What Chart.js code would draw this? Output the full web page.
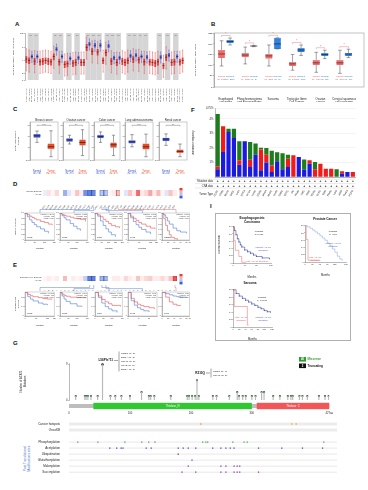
<!DOCTYPE html>
<html>
<head>
<meta charset="utf-8">
<script src="https://cdn.jsdelivr.net/npm/chart.js@4.4.1/dist/chart.umd.min.js"></script>
<style>
body { margin: 0; background: #fff; width: 368px; height: 490px; overflow: hidden; position: relative; font-family: "Liberation Sans", Arial, sans-serif; }
canvas { position: absolute; }
.lbl { position: absolute; font-weight: bold; font-size: 6px; line-height: 6px; color: #111; }
.frame { position: absolute; border: 0.6px solid #b0b0b0; box-sizing: border-box; }
.ptm { position: absolute; left: 8px; top: 455px; width: 40px; font-size: 3.2px; line-height: 3.6px; color: #4a72c4; text-align: center; transform: rotate(-90deg); transform-origin: center; }
</style>
</head>
<body>
<div class="lbl" style="left:15px;top:21px">A</div>
<div class="lbl" style="left:211px;top:21px">B</div>
<div class="lbl" style="left:13px;top:106px">C</div>
<div class="lbl" style="left:191px;top:107px">F</div>
<div class="lbl" style="left:13px;top:181px">D</div>
<div class="lbl" style="left:13px;top:262px">E</div>
<div class="lbl" style="left:210px;top:203px">I</div>
<div class="lbl" style="left:13px;top:340px">G</div>
<div class="frame" style="left:215px;top:213px;width:136px;height:128px"></div>
<div class="ptm">Post Translational<br>Modifications sites</div>
<script>
// ---------- panel A : pan-cancer expression ----------
const aLabels = ['ACC.Tumor (n=79)','BLCA.Tumor (n=408)','BLCA.Normal (n=19)','BRCA.Tumor (n=1093)','BRCA.Normal (n=112)',
  'BRCA-Basal.Tumor (n=190)','BRCA-Her2.Tumor (n=82)','BRCA-LumA.Tumor (n=564)','BRCA-LumB.Tumor (n=217)','CESC.Tumor (n=304)',
  'CHOL.Tumor (n=36)','CHOL.Normal (n=9)','COAD.Tumor (n=457)','COAD.Normal (n=41)','DLBC.Tumor (n=48)','ESCA.Tumor (n=184)',
  'ESCA.Normal (n=11)','GBM.Tumor (n=153)','HNSC.Tumor (n=520)','HNSC.Normal (n=44)','HNSC-HPV+.Tumor (n=97)','HNSC-HPV-.Tumor (n=421)',
  'KICH.Tumor (n=66)','KICH.Normal (n=25)','KIRC.Tumor (n=533)','KIRC.Normal (n=72)','KIRP.Tumor (n=290)','KIRP.Normal (n=32)',
  'LGG.Tumor (n=516)','LIHC.Tumor (n=371)','LIHC.Normal (n=50)','LUAD.Tumor (n=515)','LUAD.Normal (n=59)','LUSC.Tumor (n=501)',
  'LUSC.Normal (n=51)','MESO.Tumor (n=87)','OV.Tumor (n=303)','PAAD.Tumor (n=178)','PAAD.Normal (n=4)','PCPG.Tumor (n=179)',
  'PCPG.Normal (n=3)','PRAD.Tumor (n=497)','PRAD.Normal (n=52)','READ.Tumor (n=166)','READ.Normal (n=10)','SARC.Tumor (n=259)',
  'SKCM.Tumor (n=103)','SKCM.Metastasis (n=368)','STAD.Tumor (n=415)','STAD.Normal (n=35)','TGCT.Tumor (n=150)','THCA.Tumor (n=501)',
  'THCA.Normal (n=59)','THYM.Tumor (n=120)','UCEC.Tumor (n=545)','UCEC.Normal (n=35)','UCS.Tumor (n=57)','UVM.Tumor (n=80)'];
// [min, q1, median, q3, max]
const aStats = [[2.4,3.6,4.2,4.7,5.8],[2.2,3.4,4.0,4.5,5.6],[3.7,4.25,4.6,4.95,5.4],[2.1,3.3,3.9,4.4,5.5],[3.7,4.25,4.6,4.95,5.4],
  [2.0,3.2,3.8,4.3,5.4],[2.1,3.3,3.9,4.4,5.5],[2.2,3.4,4.0,4.5,5.6],[2.1,3.3,3.9,4.4,5.5],[2.0,3.2,3.8,4.3,5.4],
  [2.8,4.0,4.6,5.1,6.2],[4.8,5.35,5.7,6.05,6.5],[2.0,3.2,3.8,4.3,5.4],[3.7,4.25,4.6,4.95,5.4],[1.6,2.8,3.4,3.9,5.0],[1.7,2.9,3.5,4.0,5.1],
  [3.4,3.95,4.3,4.65,5.1],[1.8,3.0,3.6,4.1,5.2],[1.9,3.1,3.7,4.2,5.3],[3.5,4.05,4.4,4.75,5.2],[1.9,3.1,3.7,4.2,5.3],[1.9,3.1,3.7,4.2,5.3],
  [4.2,5.4,6.0,6.5,7.6],[5.6,6.15,6.5,6.85,7.3],[3.6,4.8,5.4,5.9,7.0],[5.4,5.95,6.3,6.65,7.1],[3.5,4.7,5.3,5.8,6.9],[5.4,5.95,6.3,6.65,7.1],
  [2.2,3.4,4.0,4.5,5.6],[3.4,4.6,5.2,5.7,6.8],[5.3,5.85,6.2,6.55,7.0],[2.1,3.3,3.9,4.4,5.5],[3.5,4.05,4.4,4.75,5.2],[1.9,3.1,3.7,4.2,5.3],
  [3.5,4.05,4.4,4.75,5.2],[2.1,3.3,3.9,4.4,5.5],[1.9,3.1,3.7,4.2,5.3],[2.2,3.4,4.0,4.5,5.6],[3.8,4.35,4.7,5.05,5.5],[2.4,3.6,4.2,4.7,5.8],
  [3.9,4.45,4.8,5.15,5.6],[2.3,3.5,4.1,4.6,5.7],[3.7,4.25,4.6,4.95,5.4],[2.0,3.2,3.8,4.3,5.4],[3.6,4.15,4.5,4.85,5.3],[2.0,3.2,3.8,4.3,5.4],
  [1.9,3.1,3.7,4.2,5.3],[1.8,3.0,3.6,4.1,5.2],[2.0,3.2,3.8,4.3,5.4],[3.6,4.15,4.5,4.85,5.3],[1.4,2.6,3.2,3.7,4.8],[2.7,3.9,4.5,5.0,6.1],
  [3.9,4.45,4.8,5.15,5.6],[1.9,3.1,3.7,4.2,5.3],[2.0,3.2,3.8,4.3,5.4],[3.7,4.25,4.6,4.95,5.4],[2.0,3.2,3.8,4.3,5.4],[2.2,3.4,4.0,4.5,5.6]];

// ---------- panel B ----------
const bGroups = [['Esophageal','carcinoma'],['Pheochromocytoma','and Paraganglioma'],['Sarcoma'],['Testicular Germ','Cell Tumors'],['Ovarian','cancer'],['Cervical squamous','cell carcinoma']];
const bTumor = [[95,133,152,171,215],[105,138,147,157,185],[95,129,143,152,195],[75,95,105,114,150],[65,100,110,124,160],[60,100,110,124,170]];
const bNormal = [[195,205,212,219,228],[187,189,190,191,193],[176,176,200,229,229],[145,162,171,181,195],[130,143,150,157,170],[135,143,152,157,175]];
const bNT = [182,182,262,137,426,306];
const bNN = [286,3,2,165,88,13];

// ---------- panel C ----------
const cTitles = ['Breast cancer','Ovarian cancer','Colon cancer','Lung adenocarcinoma','Renal cancer'];
const cNormal = [[-0.1,0.76,1.1,1.44,1.96],[-0.4,0.03,0.35,0.66,1.2],[-0.1,0.66,0.97,1.28,1.8],[-0.9,-0.3,0,0.3,1.3],[-0.65,0.13,0.5,0.76,1.44]];
const cTumor = [[-2.7,-1.35,-0.9,-0.3,2.0],[-2.5,-0.65,-0.12,0.4,2.2],[-2.5,-1.06,-0.54,-0.12,1.2],[-2.7,-1.4,-0.9,-0.3,1.4],[-2.7,-2.05,-1.74,-1.4,-0.4]];
const cN = [[18,125],[25,100],[100,97],[111,111],[84,110]];
const cSig = ['****','***','****','****','***'];

// ---------- panels D / E : survival map ----------
const hCancers = ['ACC','BLCA','BRCA','CESC','CHOL','COAD','DLBC','ESCA','GBM','HNSC','KICH','KIRC','KIRP','LAML','LGG','LIHC',
  'LUAD','LUSC','MESO','OV','PAAD','PCPG','PRAD','READ','SARC','SKCM','STAD','TGCT','THCA','THYM','UCEC','UCS','UVM'];
const dHR = [-0.1,0.15,0.05,0.2,0,-0.5,-0.15,0.05,0.3,0.1,-0.7,-0.8,-0.75,0,-0.35,-0.35,0.05,0.1,0.35,0,-0.15,0.3,0.1,0.75,0.1,0.2,0.45,0.1,0.35,0.05,-0.15,0.3,0.1];
const eHR = [0.05,0.1,0.05,0.1,0,0.35,0,0.1,0.05,0.1,-0.3,-0.8,-0.8,0,-0.45,-0.45,0,0.1,0.1,0.05,0.2,0.1,0.05,0.3,0.1,0.2,0.25,0.1,0.1,0.2,0.1,0.3,0.85];
const dSig = ['KIRC','KIRP','LGG','LIHC','MESO'];
const eSig = ['KIRC','KIRP','LGG','LIHC','UVM'];
const dP = ['1.2e-06','0.0023','0.0011','0.0092','0.0031'];
const eP = ['0.00038','0.0041','0.0017','0.012','0.026'];

const kircOSHigh = [[0,1],[12,0.96],[24,0.9],[36,0.85],[48,0.8],[60,0.76],[80,0.7],[100,0.66],[120,0.6],[140,0.57]];
const kircOSLow = [[0,1],[12,0.88],[24,0.76],[36,0.66],[48,0.58],[60,0.5],[80,0.42],[100,0.33],[120,0.25]];
const kirpOSHigh = [[0,1],[12,0.97],[24,0.93],[36,0.9],[60,0.86],[80,0.82],[100,0.8],[120,0.78],[150,0.7]];
const kirpOSLow = [[0,1],[12,0.92],[24,0.84],[36,0.76],[60,0.62],[80,0.52],[100,0.42],[120,0.35]];
const lggOSHigh = [[0,1],[20,0.95],[40,0.88],[60,0.78],[80,0.7],[100,0.62],[120,0.55],[150,0.5],[180,0.45]];
const lggOSLow = [[0,1],[20,0.9],[40,0.72],[60,0.55],[80,0.42],[100,0.3],[120,0.2],[150,0.12]];
const lihcOSHigh = [[0,1],[12,0.9],[24,0.82],[36,0.74],[48,0.66],[60,0.6],[80,0.52],[100,0.45],[120,0.42]];
const lihcOSLow = [[0,1],[12,0.84],[24,0.7],[36,0.58],[48,0.48],[60,0.4],[80,0.3],[100,0.22]];
const mesoOSHigh = [[0,1],[6,0.8],[12,0.55],[18,0.35],[24,0.2],[30,0.1],[40,0.05],[50,0]];
const mesoOSLow = [[0,1],[6,0.95],[12,0.85],[18,0.72],[24,0.6],[36,0.45],[48,0.35],[60,0.3],[80,0.25]];

const kircDFSHigh = [[0,1],[12,0.92],[24,0.86],[36,0.82],[60,0.78],[80,0.74],[100,0.72],[120,0.7]];
const kircDFSLow = [[0,1],[12,0.82],[24,0.72],[36,0.64],[60,0.55],[80,0.5],[100,0.46]];
const kirpDFSHigh = [[0,1],[12,0.93],[24,0.88],[36,0.84],[60,0.8],[100,0.78],[150,0.76]];
const kirpDFSLow = [[0,1],[12,0.85],[24,0.72],[36,0.62],[60,0.52],[100,0.42],[130,0.4]];
const lggDFSHigh = [[0,1],[20,0.85],[40,0.7],[60,0.6],[80,0.52],[100,0.45],[150,0.4]];
const lggDFSLow = [[0,1],[20,0.78],[40,0.55],[60,0.4],[80,0.3],[100,0.22],[130,0.15]];
const lihcDFSHigh = [[0,1],[12,0.75],[24,0.6],[36,0.5],[48,0.44],[60,0.4],[80,0.35],[100,0.3]];
const lihcDFSLow = [[0,1],[12,0.65],[24,0.46],[36,0.35],[48,0.28],[60,0.22],[80,0.17]];
const uvmDFSHigh = [[0,1],[12,0.8],[24,0.6],[36,0.5],[48,0.45],[60,0.42]];
const uvmDFSLow = [[0,1],[12,0.95],[24,0.9],[36,0.85],[48,0.82],[60,0.8],[80,0.78]];

// ---------- panel F : alteration frequency ----------
const fTypes = ['UCEC','STAD','SKCM','CHOL','UCS','ESCA','BLCA','LUSC','COAD','BRCA','HNSC','LUAD','SARC','CESC','OV','PAAD',
  'LIHC','KIRC','READ','DLBC','GBM','PRAD','LGG','KIRP','THCA','PCPG'];
const fDel = [0.53,1.72,3.1,2.69,0.85,2.46,0.69,1.54,0.46,0.99,0.35,1.08,0.53,0.69,0,1.38,0.5,0.92,0,0,0,0,0,0.23,0.34,0];
const fAmp = [0.2,1.78,0,0,0.3,0,0.5,0,1.43,0.55,0.45,0,0,0.57,1.5,0,0,0.23,0.53,0.92,0.57,0.57,0,0.16,0,0.34];
const fMut = [3.6,0,0.23,0.64,1.31,0,1.22,0.76,0.13,0.46,1.0,0.62,1.1,0.28,0,0,0.7,0,0.5,0,0,0,0.53,0,0,0];

// ---------- panel I : cBioPortal survival ----------
const esoWithout = [[0,1],[5,0.9],[10,0.78],[15,0.67],[20,0.58],[25,0.5],[30,0.44],[40,0.36],[50,0.31],[60,0.27],[70,0.22],[80,0.18],[100,0.14],[125,0.12]];
const esoWith = [[0,1],[3,0.62],[8,0.35],[15,0.35],[20,0.18],[28,0.18],[30,0.02],[45,0.02]];
const prWithout = [[0,1],[10,0.97],[20,0.93],[30,0.88],[40,0.83],[50,0.78],[60,0.72],[70,0.66],[80,0.6],[90,0.52],[100,0.45],[110,0.36],[120,0.27],[130,0.16],[140,0.08],[150,0.04]];
const prWith = [[0,1],[5,0.62],[12,0.05],[60,0.05]];
const sarWithout = [[0,1],[10,0.9],[20,0.83],[30,0.77],[40,0.72],[50,0.67],[60,0.62],[70,0.58],[80,0.53],[90,0.49],[100,0.44],[110,0.41],[120,0.4]];
const sarWith = [[0,1],[4,0.55],[46,0.05],[50,0.05]];

// ---------- panel G : lollipop + PTM ----------
const gMissense = [[11,1],[26,1],[28,1],[31,1],[36,1],[47,1],[68,1],[76,1],[86,1],[100,1],[119,2],[131,1],[134,1],[140,1],[167,1],
  [194,1],[197,1],[202,1],[207,1],[210,5],[213,1],[236,1],[242,1],[263,1],[276,2],[279,1],[285,1],[290,1],[300,1],[306,1],[316,2],
  [320,2],[335,1],[346,1],[359,1],[364,1],[367,1],[378,1],[383,1],[391,1],[410,1],[420,1],[426,1]];
const gTrunc = [[55,9]];
const gTicks = [0,100,200,300,427];
const gDomains = [['Thiolase_N',40,300,'#33c633'],['Thiolase_C',308,427,'#f25656']];
const gLegend = [['40','Missense','#2e9e2e'],['2','Truncating','#111']];
const pRowNames = ['Succinylation','Malonylation','Glutathionylation','Ubiquitination','Acetylation','Phosphorylation','','OncoKB','Cancer hotspots'];
const pHotspots = [210,355,362];
const pPhos = [14,46,89,116,127,137,213,218,221,261,279,284,406];
const pAcet = [65,76,83,86,123,131,174,182,190,202,229,242,250,257,263,302,339,372,404];
const pUbiq = [174];
const pGlut = [196];
const pMalon = [190,242,250,263,268,272];
const pSucc = [180,202,242,250,263,268,272,302];

// ---------- helpers ----------
const FF = '"Liberation Sans", Arial, sans-serif';
Chart.defaults.font.family = FF;
Chart.defaults.font.size = 3;
Chart.defaults.color = '#222';
Chart.defaults.animation = false;
Chart.defaults.responsive = false;
Chart.defaults.events = [];
Chart.defaults.plugins.legend.display = false;
Chart.defaults.plugins.tooltip.enabled = false;

function mk(cv) {
    const c = document.createElement('canvas');
    c.width = cv[2]; c.height = cv[3];
    c.style.left = cv[0] + 'px'; c.style.top = cv[1] + 'px';
    c.style.width = cv[2] + 'px'; c.style.height = cv[3] + 'px';
    document.body.appendChild(c);
    return c;
}
// canvas [x,y,w,h] and plot [l,t,r,b] in page pixels
function box(cv, pl, padL) {
    padL = padL || 0;
    return { padL: padL, padT: pl[1] - cv[1], padR: cv[0] + cv[2] - pl[2], yW: pl[0] - cv[0] - padL, xH: cv[1] + cv[3] - pl[3] };
}
function lay(L) {
    return { autoPadding: false, padding: { left: L.padL, top: L.padT, right: L.padR, bottom: 0 } };
}
function notesP(cv, items) {
    return { id: 'notes', afterDraw(chart) {
        const ctx = chart.ctx;
        items.forEach(n => {
            ctx.save();
            ctx.font = (n.b ? 'bold ' : '') + (n.s || 3) + 'px ' + FF;
            ctx.fillStyle = n.c || '#222';
            ctx.textAlign = n.a || 'center';
            ctx.textBaseline = 'middle';
            ctx.fillText(n.t, n.x - cv[0], n.y - cv[1]);
            ctx.restore();
        });
    }};
}
function frameP(color, extR) {
    return { id: 'frame', afterDraw(chart) {
        const a = chart.chartArea, ctx = chart.ctx;
        ctx.save();
        ctx.strokeStyle = color; ctx.lineWidth = 0.5;
        ctx.strokeRect(a.left, a.top, a.right - a.left + (extR || 0), a.bottom - a.top);
        ctx.restore();
    }};
}
// whiskers and medians on top of floating bars
const boxP = { id: 'boxes', afterDatasetsDraw(chart) {
    const ctx = chart.ctx, y = chart.scales.y;
    chart.data.datasets.forEach((ds, di) => {
        if (!ds.stats) return;
        chart.getDatasetMeta(di).data.forEach((bar, i) => {
            const s = ds.stats[i];
            if (!s) return;
            const hw = bar.width / 2, p = v => y.getPixelForValue(v);
            ctx.save();
            ctx.strokeStyle = ds.whisker || '#333'; ctx.lineWidth = 0.5;
            ctx.beginPath();
            ctx.moveTo(bar.x, p(s[3])); ctx.lineTo(bar.x, p(s[4]));
            ctx.moveTo(bar.x, p(s[1])); ctx.lineTo(bar.x, p(s[0]));
            ctx.moveTo(bar.x - hw * 0.5, p(s[4])); ctx.lineTo(bar.x + hw * 0.5, p(s[4]));
            ctx.moveTo(bar.x - hw * 0.5, p(s[0])); ctx.lineTo(bar.x + hw * 0.5, p(s[0]));
            ctx.stroke();
            ctx.strokeStyle = ds.median || '#000'; ctx.lineWidth = 0.6;
            ctx.beginPath(); ctx.moveTo(bar.x - hw, p(s[2])); ctx.lineTo(bar.x + hw, p(s[2])); ctx.stroke();
            ctx.restore();
        });
    });
}};
function heatColor(v) {
    const t = Math.min(1, Math.abs(v));
    const c = v >= 0 ? [230, 60, 58] : [58, 96, 218];
    const m = k => Math.round(255 + (c[k] - 255) * t);
    return 'rgb(' + m(0) + ',' + m(1) + ',' + m(2) + ')';
}
const tinyAxis = (size, extra) => Object.assign({
    grid: { drawOnChartArea: false, tickLength: 1, color: '#666', lineWidth: 0.4 },
    border: { color: '#666', width: 0.45 },
    ticks: { font: { size: size }, padding: 0.5 }
}, extra);

// ---------- A ----------
const cvA = [12, 30, 174, 72], LA = box(cvA, [25, 33, 184, 80]);
const isN = aLabels.map(l => l.indexOf('Normal') >= 0);
const stripesP = { id: 'stripes', beforeDatasetsDraw(chart) {
    const x = chart.scales.x, a = chart.chartArea, ctx = chart.ctx, w = a.width / aLabels.length;
    ctx.save();
    isN.forEach((n, i) => {
        if (!n) return;
        const x0 = x.getPixelForValue(i - 1) - w / 2, x1 = x.getPixelForValue(i) + w / 2;
        ctx.fillStyle = '#d5d5d5';
        ctx.fillRect(x0, a.top, x1 - x0, a.bottom - a.top);
        ctx.fillStyle = '#333'; ctx.font = '2.4px ' + FF; ctx.textAlign = 'center';
        ctx.fillText('***', (x0 + x1) / 2, a.top + 2.8);
    });
    ctx.restore();
}};
new Chart(mk(cvA), {
    type: 'bar',
    data: { labels: aLabels, datasets: [
        { data: aStats.map((s, i) => isN[i] ? null : [s[1], s[3]]), stats: aStats.map((s, i) => isN[i] ? null : s),
          backgroundColor: 'rgba(228,38,38,0.9)', borderColor: '#c01818', borderWidth: 0.3, whisker: '#e84a4a', median: '#6a0000',
          grouped: false, barPercentage: 0.8, categoryPercentage: 1 },
        { data: aStats.map((s, i) => isN[i] ? [s[1], s[3]] : null), stats: aStats.map((s, i) => isN[i] ? s : null),
          backgroundColor: 'rgba(60,78,214,0.9)', borderColor: '#2a3aa8', borderWidth: 0.3, whisker: '#4a5ae0', median: '#0a1060',
          grouped: false, barPercentage: 0.8, categoryPercentage: 1 }
    ]},
    options: {
        layout: lay(LA),
        scales: {
            x: { afterFit: s => { s.height = LA.xH; }, grid: { display: false }, border: { display: false },
                 ticks: { autoSkip: false, minRotation: 90, maxRotation: 90, font: { size: 2.2 }, padding: 0.5, color: '#444' } },
            y: tinyAxis(2.5, { min: 1, max: 8.2, afterFit: s => { s.width = LA.yW; },
                 ticks: { stepSize: 2, font: { size: 2.5 }, padding: 0.5 },
                 title: { display: true, text: 'ACAT1 Expression Level (log2 TPM)', font: { size: 2.3 }, padding: 0 } })
        }
    },
    plugins: [stripesP, boxP]
});

// ---------- B ----------
const cvB = [194, 30, 172, 72], LB = box(cvB, [214, 33, 356, 87]);
const bExtraP = { id: 'bextra', afterDraw(chart) {
    const ctx = chart.ctx, a = chart.chartArea, y = chart.scales.y;
    const mT = chart.getDatasetMeta(0), mN = chart.getDatasetMeta(1);
    ctx.save();
    bTumor.forEach((s, i) => {
        const xT = mT.data[i].x, xN = mN.data[i].x;
        const yb = y.getPixelForValue(Math.max(s[4], bNormal[i][4]) + 12);
        ctx.strokeStyle = '#e07a7a'; ctx.lineWidth = 0.45;
        ctx.beginPath(); ctx.moveTo(xT, yb + 1.5); ctx.lineTo(xT, yb); ctx.lineTo(xN, yb); ctx.lineTo(xN, yb + 1.5); ctx.stroke();
        ctx.fillStyle = '#d9534f'; ctx.font = '3px ' + FF; ctx.textAlign = 'center'; ctx.textBaseline = 'middle';
        ctx.fillText('*', (xT + xN) / 2, yb - 1);
        ctx.font = '2.5px ' + FF;
        ctx.fillStyle = '#e25a5a';
        ctx.fillText('Tumor', xT, a.bottom - 11); ctx.fillText('(N=' + bNT[i] + ')', xT, a.bottom - 8);
        ctx.fillStyle = '#2f7fd8';
        ctx.fillText('Normal', xN, a.bottom - 11); ctx.fillText('(N=' + bNN[i] + ')', xN, a.bottom - 8);
    });
    ctx.restore();
}};
new Chart(mk(cvB), {
    type: 'bar',
    data: { labels: bGroups, datasets: [
        { data: bTumor.map(s => [s[1], s[3]]), stats: bTumor, backgroundColor: '#f26b6b', borderColor: '#cf4a4a', borderWidth: 0.4,
          whisker: '#444', median: '#222', barPercentage: 0.85, categoryPercentage: 0.72 },
        { data: bNormal.map(s => [s[1], s[3]]), stats: bNormal, backgroundColor: '#2f82e2', borderColor: '#1d5fb4', borderWidth: 0.4,
          whisker: '#444', median: '#111', barPercentage: 0.85, categoryPercentage: 0.72 }
    ]},
    options: {
        layout: lay(LB),
        scales: {
            x: { afterFit: s => { s.height = LB.xH; }, grid: { display: false }, border: { display: false },
                 ticks: { autoSkip: false, maxRotation: 0, font: { size: 2.8 }, padding: 2.5, color: '#222' } },
            y: tinyAxis(2.5, { min: -5, max: 252, afterFit: s => { s.width = LB.yW; },
                 ticks: { stepSize: 50, font: { size: 2.5 }, padding: 0.5 },
                 title: { display: true, text: 'ACAT1 Expression Level (TPM)', font: { size: 2.3 }, padding: 0 } })
        }
    },
    plugins: [boxP, bExtraP, frameP('#888', 8)]
});

// ---------- C ----------
const cPlots = [[30, 122, 58, 160], [63, 122, 89, 160], [94, 122, 120, 160], [125, 122, 153, 160], [159, 122, 187, 160]];
cPlots.forEach((pl, k) => {
    const yW = k === 0 ? 16 : 5;
    const cv = [pl[0] - yW, 115, pl[2] - pl[0] + yW + 2, 59];
    const L = box(cv, pl);
    const sigP = { id: 'csig', afterDraw(chart) {
        const ctx = chart.ctx, y = chart.scales.y, m = chart.getDatasetMeta(0), a = chart.chartArea;
        const x0 = m.data[0].x, x1 = m.data[1].x, yb = y.getPixelForValue(3.0);
        ctx.save();
        ctx.strokeStyle = '#555'; ctx.lineWidth = 0.4;
        ctx.beginPath(); ctx.moveTo(x0, yb + 1); ctx.lineTo(x0, yb); ctx.lineTo(x1, yb); ctx.lineTo(x1, yb + 1); ctx.stroke();
        ctx.fillStyle = '#222'; ctx.font = '2.2px ' + FF; ctx.textAlign = 'center'; ctx.textBaseline = 'middle';
        ctx.fillText(cSig[k], (x0 + x1) / 2, yb - 1);
        ctx.font = '2.8px ' + FF;
        ctx.fillText(cTitles[k], (a.left + a.right) / 2, a.top - 2.2);
        ctx.restore();
    }};
    new Chart(mk(cv), {
        type: 'bar',
        data: { labels: [['Normal', '(N=' + cN[k][0] + ')'], ['Tumor', '(N=' + cN[k][1] + ')']], datasets: [
            { data: [[cNormal[k][1], cNormal[k][3]], [cTumor[k][1], cTumor[k][3]]], stats: [cNormal[k], cTumor[k]],
              backgroundColor: ['#3f55cc', '#ec4b25'], borderColor: ['#26389a', '#b8341a'], borderWidth: 0.4,
              whisker: '#444', median: '#111', barPercentage: 0.5, categoryPercentage: 1 }
        ]},
        options: {
            layout: lay(L),
            scales: {
                x: { afterFit: s => { s.height = L.xH; }, grid: { display: false }, border: { display: false },
                     ticks: { font: { size: 2.6 }, padding: 2, maxRotation: 0, color: c => c.index === 0 ? '#3f55cc' : '#ec4b25' } },
                y: tinyAxis(2.1, { min: -3.3, max: 3.6, afterFit: s => { s.width = L.yW; },
                     ticks: { stepSize: 1, font: { size: 2.1 }, padding: 0.4 },
                     title: { display: k === 0, text: ['Protein Expression', 'Z-value'], font: { size: 2.4 }, padding: 0 } })
            }
        },
        plugins: [boxP, sigP, frameP('#999')]
    });
});

// ---------- D / E heatmaps ----------
function heatmap(cv, pl, vals, sig, title, targets) {
    const L = box(cv, pl);
    const linkP = { id: 'links', afterDraw(chart) {
        const ctx = chart.ctx, x = chart.scales.x, a = chart.chartArea, H = chart.height;
        ctx.save();
        ctx.lineWidth = 0.5;
        sig.forEach((name, j) => {
            const i = hCancers.indexOf(name), cx = x.getPixelForValue(i), tx = targets[j] - cv[0];
            const yh = H - 3.5 + (j % 2) * 1.1;
            ctx.strokeStyle = vals[i] < 0 ? '#5b7fd0' : '#e06a6a';
            ctx.beginPath(); ctx.moveTo(cx, H - 6); ctx.lineTo(cx, yh); ctx.lineTo(tx, yh); ctx.lineTo(tx, H); ctx.stroke();
        });
        ctx.fillStyle = '#333'; ctx.font = '2.2px ' + FF; ctx.textAlign = 'right'; ctx.textBaseline = 'middle';
        ctx.fillText(title, a.left - 1.5, a.top + 1.5);
        ctx.fillText('ACAT1', a.left - 1.5, a.top + 4.5);
        [1, 0.4, -0.4, -1].forEach((v, q) => {
            ctx.fillStyle = heatColor(v);
            ctx.fillRect(a.right + 2.5, a.top - 2 + q * 2.6, 3, 2.6);
        });
        ctx.restore();
    }};
    new Chart(mk(cv), {
        type: 'bar',
        data: { labels: hCancers, datasets: [
            { data: vals.map(() => [0, 1]), backgroundColor: vals.map(heatColor),
              borderColor: hCancers.map((c, i) => sig.indexOf(c) >= 0 ? (vals[i] < 0 ? '#2a4aa0' : '#b02a2a') : 'rgba(0,0,0,0)'),
              borderWidth: hCancers.map(c => sig.indexOf(c) >= 0 ? 0.7 : 0), borderSkipped: false,
              barPercentage: 1, categoryPercentage: 1 }
        ]},
        options: {
            layout: lay(L),
            scales: {
                x: { afterFit: s => { s.height = L.xH; }, grid: { display: false }, border: { display: false },
                     ticks: { autoSkip: false, minRotation: 55, maxRotation: 55, font: { size: 2.1 }, padding: 0.5, color: '#444' } },
                y: { min: 0, max: 1, afterFit: s => { s.width = L.yW; }, grid: { display: false }, border: { display: false }, ticks: { display: false } }
            }
        },
        plugins: [linkP]
    });
}
const kmCentersD = [40, 74, 109, 142.5, 176];
heatmap([14, 186, 172, 27], [43, 190, 177, 196], dHR, dSig, 'Overall Survival', kmCentersD);
heatmap([14, 272, 172, 19], [43, 276, 177, 281], eHR, eSig, 'Disease Free Survival', kmCentersD);

// ---------- KM helper ----------
function km(cv, pl, curves, o) {
    const L = box(cv, pl);
    new Chart(mk(cv), {
        type: 'line',
        data: { datasets: curves.map(k => ({
            data: k.data.map(p => ({ x: p[0], y: p[1] })), borderColor: k.color, borderWidth: k.w || 0.55, stepped: true,
            pointRadius: k.pr || 0, pointBackgroundColor: k.color, pointBorderWidth: 0, fill: false })) },
        options: {
            layout: lay(L),
            scales: {
                x: tinyAxis(o.tf || 1.8, { type: 'linear', min: 0, max: o.xmax, afterFit: s => { s.height = L.xH; },
                     ticks: { stepSize: o.xstep, font: { size: o.tf || 1.8 }, padding: 0.3, maxRotation: 0 },
                     title: { display: true, text: 'Months', font: { size: o.ttf || 2.4 }, padding: 0.3 } }),
                y: tinyAxis(o.tf || 1.8, { min: 0, max: 1.02, afterFit: s => { s.width = L.yW; },
                     ticks: { stepSize: 0.2, font: { size: o.tf || 1.8 }, padding: 0.3 },
                     title: { display: !!o.ytitle, text: o.ytitle || '', font: { size: o.ttf || 2.4 }, padding: 0 } })
            }
        },
        plugins: [notesP(cv, o.notes || [])].concat(o.frame ? [frameP('#aaa')] : [])
    });
}
const RED = '#e8413e', BLUE = '#3d6fd6';
const kmRectsX = [[25, 55], [60, 88], [95, 123], [128, 157], [162, 190]];
const dCurves = [[kircOSHigh, kircOSLow, 150], [kirpOSHigh, kirpOSLow, 160], [lggOSHigh, lggOSLow, 200], [lihcOSHigh, lihcOSLow, 125], [mesoOSHigh, mesoOSLow, 90]];
const eCurves = [[kircDFSHigh, kircDFSLow, 130], [kirpDFSHigh, kirpDFSLow, 160], [lggDFSHigh, lggDFSLow, 160], [lihcDFSHigh, lihcDFSLow, 110], [uvmDFSHigh, uvmDFSLow, 90]];
function kmRow(curves, sig, pv, top, bottom, cvTop, cvBottom, ytitle) {
    kmRectsX.forEach((r, k) => {
        const yW = k === 0 ? 11 : 4;
        const cv = [r[0] - yW, cvTop, r[1] - r[0] + yW + 1, cvBottom - cvTop];
        km(cv, [r[0], top, r[1], bottom], [
            { data: curves[k][0], color: RED }, { data: curves[k][1], color: BLUE }
        ], { xmax: curves[k][2], xstep: curves[k][2] > 120 ? 50 : 20, ytitle: k === 0 ? ytitle : '', frame: true,
             notes: [
                { t: 'Logrank p=' + pv[k], x: r[1] - 1, y: top + 2, s: 1.6, a: 'right', c: '#444' },
                { t: 'HR(high)=' + (dHR[hCancers.indexOf(sig[k])] < 0 ? '0.55' : '2.1'), x: r[1] - 1, y: top + 4, s: 1.6, a: 'right', c: '#444' },
                { t: 'n(high)=' + 'n(low)', x: r[1] - 1, y: top + 6, s: 1.6, a: 'right', c: '#444' },
                { t: sig[k], x: r[0] + 2, y: bottom - 2.5, s: 2.3, a: 'left', c: '#222' }
             ] });
    });
}
kmRow(dCurves, dSig, dP, 213, 240, 211, 250, 'Overall Survival');
kmRow(eCurves, eSig, eP, 292, 316, 290, 327, ['Disease Free', 'Survival']);

// ---------- F ----------
const cvF = [192, 104, 176, 102], LF = box(cvF, [215, 108, 364, 177]);
const fRowsP = { id: 'frows', afterDraw(chart) {
    const ctx = chart.ctx, a = chart.chartArea, m = chart.getDatasetMeta(0);
    ctx.save();
    ctx.strokeStyle = '#c8c8c8'; ctx.lineWidth = 0.4;
    [2.2, 6.6, 11].forEach(d => { ctx.beginPath(); ctx.moveTo(a.left - 20, a.bottom + d); ctx.lineTo(a.right, a.bottom + d); ctx.stroke(); });
    ctx.fillStyle = '#222'; ctx.font = 'bold 3.2px ' + FF; ctx.textAlign = 'center'; ctx.textBaseline = 'middle';
    m.data.forEach(b => { ctx.fillText('+', b.x, a.bottom + 4.4); ctx.fillText('+', b.x, a.bottom + 8.8); });
    ctx.font = '2.6px ' + FF; ctx.textAlign = 'right';
    ctx.fillText('Mutation data', a.left - 2, a.bottom + 4.4);
    ctx.fillText('CNA data', a.left - 2, a.bottom + 8.8);
    ctx.fillText('Tumor Type', a.left - 2, a.bottom + 17);
    ctx.restore();
}};
new Chart(mk(cvF), {
    type: 'bar',
    data: { labels: fTypes, datasets: [
        { label: 'Deep Deletion', data: fDel, backgroundColor: '#1a1ae0' },
        { label: 'Amplification', data: fAmp, backgroundColor: '#f01c1c' },
        { label: 'Mutation', data: fMut, backgroundColor: '#1d7d1d' }
    ]},
    options: {
        layout: lay(LF),
        datasets: { bar: { barPercentage: 0.78, categoryPercentage: 1 } },
        scales: {
            x: { stacked: true, afterFit: s => { s.height = LF.xH; }, grid: { display: false, drawTicks: false }, border: { color: '#666', width: 0.45 },
                 ticks: { autoSkip: false, minRotation: 60, maxRotation: 60, font: { size: 2.5 }, padding: 12.5, color: '#222' } },
            y: { stacked: true, min: 0, max: 4.75, afterFit: s => { s.width = LF.yW; },
                 grid: { color: '#e2e2e2', lineWidth: 0.4, tickLength: 1 }, border: { color: '#666', width: 0.45 },
                 ticks: { stepSize: 1, font: { size: 2.7 }, padding: 0.5, callback: v => v === 0 ? '' : v + '%' },
                 title: { display: true, text: 'Alteration Frequency', font: { size: 2.6 }, padding: 0 } }
        }
    },
    plugins: [fRowsP]
});

// ---------- I ----------
const iBlue = '#2e3d9c', iRed = '#e57373';
km([218, 215, 56, 64], [233, 226, 271, 263], [
    { data: esoWith, color: iRed, w: 0.55 }, { data: esoWithout, color: iBlue, w: 0.55, pr: 0.5 }
], { xmax: 130, xstep: 20, tf: 2, ttf: 2.7, ytitle: 'Overall Survival', notes: [
    { t: 'Esophagogastric', x: 252, y: 218.5, s: 3.1, b: true, c: '#111' },
    { t: 'Carcinoma', x: 252, y: 222.2, s: 3.1, b: true, c: '#111' },
    { t: 'Logrank', x: 259, y: 231, s: 2.3 }, { t: 'P<0.001', x: 259, y: 234, s: 2.3 },
    { t: 'Without ACAT1', x: 263, y: 247, s: 2.3, c: '#4a5bbf' }, { t: 'alteration', x: 263, y: 250, s: 2.3, c: '#4a5bbf' },
    { t: 'With ACAT1 alteration', x: 257, y: 261.5, s: 2.3, c: '#e05a5a' }
] });
km([292, 215, 57, 62], [305, 225, 346, 262], [
    { data: prWith, color: iRed, w: 0.55 }, { data: prWithout, color: '#90a8dc', w: 0.55 }
], { xmax: 165, xstep: 30, tf: 2, ttf: 2.7, notes: [
    { t: 'Prostate Cancer', x: 325, y: 219, s: 3.1, b: true, c: '#111' },
    { t: 'Logrank', x: 333, y: 231, s: 2.3 }, { t: 'P=0.08', x: 333, y: 234, s: 2.3 },
    { t: 'Without ACAT1', x: 333, y: 243, s: 2.3, c: '#4a6bc8' }, { t: 'alteration', x: 333, y: 246, s: 2.3, c: '#4a6bc8' },
    { t: 'With ACAT1', x: 315, y: 257, s: 2.3, c: '#e05a5a' }, { t: 'alteration', x: 315, y: 260, s: 2.3, c: '#e05a5a' }
] });
km([218, 280, 57, 61], [233, 289, 272, 327], [
    { data: sarWith, color: iRed, w: 0.55 }, { data: sarWithout, color: iBlue, w: 0.55, pr: 0.5 }
], { xmax: 125, xstep: 20, tf: 2, ttf: 2.7, notes: [
    { t: 'Sarcoma', x: 250, y: 283.5, s: 3.1, b: true, c: '#111' },
    { t: 'Logrank', x: 262, y: 297, s: 2.3 }, { t: 'P=0.0456', x: 262, y: 300, s: 2.3 },
    { t: 'With ACAT1', x: 241, y: 317, s: 2.3, c: '#e05a5a' }, { t: 'alteration', x: 241, y: 320, s: 2.3, c: '#e05a5a' },
    { t: 'Without ACAT1', x: 263, y: 317, s: 2.3, c: '#4a5bbf' }, { t: 'alteration', x: 263, y: 320, s: 2.3, c: '#4a5bbf' }
] });

// ---------- G : lollipop ----------
const cvG = [0, 345, 345, 73], LG = box(cvG, [69, 363, 337, 400], 20);
const gDrawP = { id: 'gdraw', afterDraw(chart) {
    const ctx = chart.ctx, x = chart.scales.x, a = chart.chartArea;
    ctx.save();
    ctx.fillStyle = '#bdbdbd';
    ctx.fillRect(x.getPixelForValue(0), a.bottom + 4, x.getPixelForValue(427) - x.getPixelForValue(0), 4);
    gDomains.forEach(d => {
        const x0 = x.getPixelForValue(d[1]), x1 = x.getPixelForValue(d[2]);
        ctx.fillStyle = d[3];
        ctx.fillRect(x0, a.bottom + 2.8, x1 - x0, 6.4);
        ctx.fillStyle = '#fff'; ctx.font = '2.7px ' + FF; ctx.textAlign = 'center'; ctx.textBaseline = 'middle';
        ctx.fillText(d[0], (x0 + x1) / 2, a.bottom + 6);
    });
    gLegend.forEach((g, i) => {
        const yy = 357 - cvG[1] + i * 6.5, xx = 299 - cvG[0];
        ctx.fillStyle = g[2]; ctx.fillRect(xx, yy, 7, 4.6);
        ctx.fillStyle = '#fff'; ctx.font = 'bold 2.8px ' + FF; ctx.textAlign = 'center'; ctx.textBaseline = 'middle';
        ctx.fillText(g[0], xx + 3.5, yy + 2.4);
        ctx.fillStyle = g[2]; ctx.textAlign = 'left'; ctx.font = 'bold 3px ' + FF;
        ctx.fillText(g[1], xx + 8.5, yy + 2.4);
    });
    // annotation brackets
    ctx.strokeStyle = '#333'; ctx.lineWidth = 0.45;
    ctx.beginPath();
    ctx.moveTo(114 - cvG[0], 360.5 - cvG[1]); ctx.lineTo(118 - cvG[0], 360.5 - cvG[1]);
    ctx.moveTo(119 - cvG[0], 351.5 - cvG[1]); ctx.lineTo(119 - cvG[0], 371.5 - cvG[1]);
    ctx.moveTo(206 - cvG[0], 373 - cvG[1]); ctx.lineTo(210 - cvG[0], 373 - cvG[1]);
    ctx.moveTo(211 - cvG[0], 368.5 - cvG[1]); ctx.lineTo(211 - cvG[0], 377.5 - cvG[1]);
    ctx.stroke();
    ctx.restore();
}};
new Chart(mk(cvG), {
    type: 'bar',
    data: { datasets: [
        { type: 'bar', data: gMissense.concat(gTrunc).map(p => ({ x: p[0], y: p[1] })), backgroundColor: '#b8b8b8', barThickness: 0.5 },
        { type: 'scatter', data: gMissense.map(p => ({ x: p[0], y: p[1] })), pointRadius: 1.1, backgroundColor: '#1f5a1f', pointBorderWidth: 0 },
        { type: 'scatter', data: gTrunc.map(p => ({ x: p[0], y: p[1] })), pointRadius: 1.2, backgroundColor: '#111', pointBorderWidth: 0 }
    ]},
    options: {
        layout: lay(LG),
        scales: {
            x: { type: 'linear', min: 0, max: 427, offset: false, afterFit: s => { s.height = LG.xH; },
                 afterBuildTicks: s => { s.ticks = gTicks.map(v => ({ value: v })); },
                 grid: { display: false, drawTicks: false }, border: { display: false },
                 ticks: { font: { size: 2.7 }, padding: 12, maxRotation: 0, callback: v => v === 427 ? '427aa' : v } },
            y: { min: 0, max: 9.4, afterFit: s => { s.width = LG.yW; },
                 afterBuildTicks: s => { s.ticks = [{ value: 0 }, { value: 9 }]; },
                 grid: { drawOnChartArea: false, tickLength: 1, color: '#666', lineWidth: 0.4 }, border: { color: '#666', width: 0.45 },
                 ticks: { font: { size: 2.7 }, padding: 0.5 },
                 title: { display: true, text: ['Number of ACAT1', 'Mutations'], font: { size: 2.7 }, padding: 0 } }
        }
    },
    plugins: [gDrawP, notesP(cvG, [
        { t: 'L56Pfs*11', x: 113, y: 360.5, s: 3.1, b: true, a: 'right', c: '#111' },
        { t: 'UCEC (N=2)', x: 121, y: 353.5, s: 2.5, a: 'left' }, { t: 'ESCA (N=2)', x: 121, y: 357.5, s: 2.5, a: 'left' },
        { t: 'COAD (N=2)', x: 121, y: 361.5, s: 2.5, a: 'left' }, { t: 'STAD (N=2)', x: 121, y: 365.5, s: 2.5, a: 'left' },
        { t: 'BRCA (N=1)', x: 121, y: 369.5, s: 2.5, a: 'left' },
        { t: 'R210Q', x: 205, y: 373, s: 3.1, b: true, a: 'right', c: '#111' },
        { t: 'UCEC (N=3)', x: 213, y: 371, s: 2.5, a: 'left' }, { t: 'COAD (N=2)', x: 213, y: 375, s: 2.5, a: 'left' }
    ])]
});

// ---------- G : hotspots and PTM tracks ----------
const cvP = [0, 418, 345, 60], LP = box(cvP, [69, 421, 337, 478], 20);
const tracksP = { id: 'tracks', beforeDatasetsDraw(chart) {
    const ctx = chart.ctx, a = chart.chartArea, y = chart.scales.y;
    ctx.save();
    [8, 7].forEach(v => { ctx.fillStyle = '#ececec'; ctx.fillRect(a.left, y.getPixelForValue(v) - 1.5, a.right - a.left, 3); });
    ctx.strokeStyle = '#d0d0d0'; ctx.lineWidth = 0.5;
    [0, 1, 2, 3, 4, 5].forEach(v => { const yy = y.getPixelForValue(v); ctx.beginPath(); ctx.moveTo(a.left, yy); ctx.lineTo(a.right, yy); ctx.stroke(); });
    ctx.restore();
}};
const ptmSet = (arr, row, color) => ({ data: arr.map(v => ({ x: v, y: row })), backgroundColor: color, pointStyle: 'rect', pointRadius: 0.9, pointBorderWidth: 0 });
new Chart(mk(cvP), {
    type: 'scatter',
    data: { datasets: [
        ptmSet(pHotspots, 8, '#efa23a'), ptmSet(pPhos, 5, '#3caf3c'), ptmSet(pAcet, 4, '#4646c8'),
        ptmSet(pUbiq, 3, '#a01c1c'), ptmSet(pGlut, 2, '#8e34b8'), ptmSet(pMalon, 1, '#9030b0'), ptmSet(pSucc, 0, '#9030b0')
    ]},
    options: {
        layout: lay(LP),
        scales: {
            x: { type: 'linear', min: 0, max: 427, afterFit: s => { s.height = LP.xH; }, grid: { display: false }, border: { display: false }, ticks: { display: false } },
            y: { min: -0.5, max: 8.5, afterFit: s => { s.width = LP.yW; },
                 afterBuildTicks: s => { s.ticks = [0, 1, 2, 3, 4, 5, 7, 8].map(v => ({ value: v })); },
                 grid: { display: false }, border: { display: false },
                 ticks: { font: { size: 3 }, padding: 1, color: '#222', callback: v => pRowNames[v] } }
        }
    },
    plugins: [tracksP]
});
</script>
</body>
</html>
